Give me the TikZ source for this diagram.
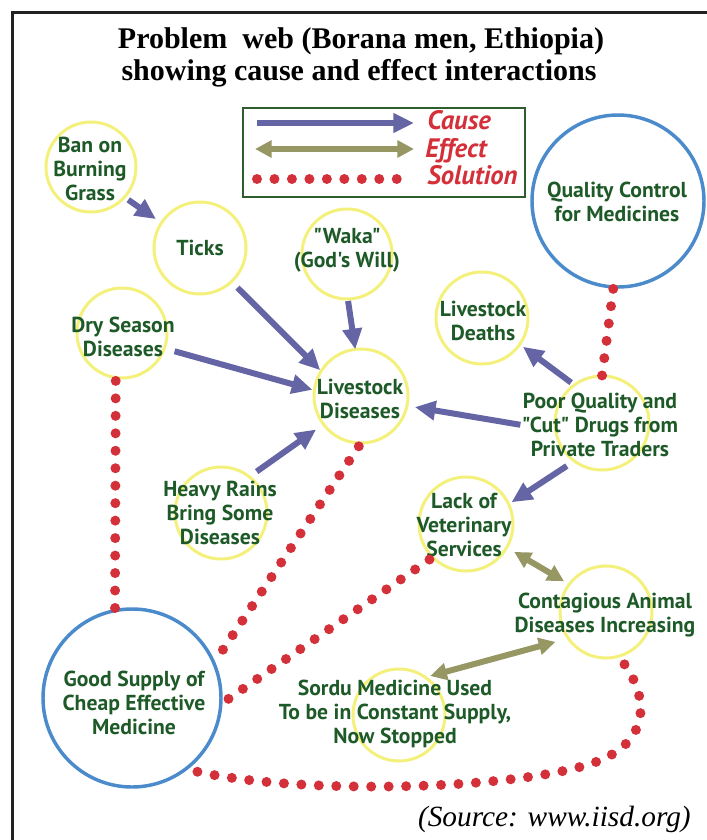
\documentclass[tikz,border=0pt]{standalone}
\usepackage{fontspec}
\usetikzlibrary{arrows.meta}
\setmainfont{Liberation Serif}
\newfontfamily\labelfont{PT Sans}

\definecolor{tgreen}{HTML}{1E5A28}
\definecolor{yel}{HTML}{F4F07C}
\definecolor{bcirc}{HTML}{4B8BCB}
\definecolor{causec}{HTML}{6565A5}
\definecolor{effc}{HTML}{979764}
\definecolor{solc}{HTML}{D3303A}
\definecolor{legc}{HTML}{2E5E2E}
\definecolor{framec}{HTML}{222222}

\begin{document}
\begin{tikzpicture}[x=0.75pt, y=-0.75pt,
  yc/.style={circle, draw=yel, line width=2.25pt, minimum size=69pt, inner sep=0pt, outer sep=0pt},
  bc/.style={circle, draw=bcirc, line width=2.6pt, inner sep=0pt, outer sep=0pt},
  lbl/.style={font=\labelfont\bfseries\fontsize{16.25}{18}\selectfont, text=tgreen, align=center, inner sep=0pt},
  legtxt/.style={font=\labelfont\bfseries\itshape\fontsize{20}{22}\selectfont, text=solc, inner sep=0pt},
  cause/.style={draw=causec, line width=4.5pt, -{Triangle[length=15.5pt,width=14pt]}},
  effect/.style={draw=effc, line width=4.5pt, {Triangle[length=12.5pt,width=12.5pt]}-{Triangle[length=12.5pt,width=12.5pt]}},
  sol/.style={draw=solc, line width=7.5pt, line cap=round, dash pattern=on 0pt off 13.1pt},
  titletxt/.style={font=\bfseries\fontsize{22.5}{24}\selectfont, inner sep=0pt}]

\useasboundingbox (0,0) rectangle (707,840);

% frame on the left and top
\draw[framec, line width=2.25pt] (12.5,840) -- (12.5,12.5) -- (707,12.5);

% heading
\node[titletxt, anchor=base] (title1) at (361,48) {Problem\ \ web (Borana men, Ethiopia)};
\node[titletxt, anchor=base] (title2) at (359,80) {showing cause and effect interactions};

% key
\node[draw=legc, line width=1.5pt, minimum width=211.5pt, minimum height=66.75pt, inner sep=0pt] (legend) at (384,152.5) {};
\coordinate (ca1) at (257,123); \coordinate (ca2) at (414,123);
\coordinate (ef1) at (255,149); \coordinate (ef2) at (414,149);
\coordinate (so1) at (257,179); \coordinate (so2) at (407,179);
\draw[cause] (ca1) -- (ca2);
\draw[effect] (ef1) -- (ef2);
\draw[sol] (so1) -- (so2);
\node[legtxt, anchor=base west] (lcause) at (427,129) {Cause};
\node[legtxt, anchor=base west] (leffect) at (425,157) {Effect};
\node[legtxt, anchor=base west] (lsol) at (427,184) {Solution};

% problem circles
\node[yc, minimum size=67.5pt] (ban) at (91,167) {};
\node[yc] (ticks) at (200,248) {};
\node[yc, minimum size=67.5pt] (waka) at (347,254) {};
\node[yc, minimum size=67.5pt] (dry) at (122,333) {};
\node[yc, minimum size=70.5pt] (ld) at (361,396) {};
\node[yc] (deaths) at (482,318) {};
\node[yc, minimum size=70.5pt] (poor) at (602,423) {};
\node[yc, minimum size=70.5pt] (lack) at (466,524) {};
\node[yc] (heavy) at (221,513) {};
\node[yc] (cont) at (606,612) {};
\node[yc] (sordu) at (399,715) {};

% solution circles
\node[bc, minimum size=129pt] (qc) at (618,201) {};
\node[bc, minimum size=133.5pt] (good) at (132,698) {};

% labels
\node[lbl] (bant) at (90,169) {Ban on\\Burning\\Grass};
\node[lbl] (tickst) at (200,248) {Ticks};
\node[lbl] (wakat) at (347,250) {"Waka"\\(God's Will)};
\node[lbl] (dryt) at (123,337) {Dry Season\\Diseases};
\node[lbl] (ldt) at (360,399) {Livestock\\Diseases};
\node[lbl] (deathst) at (483,321) {Livestock\\Deaths};
\node[lbl] (qct) at (617,202) {Quality Control\\for Medicines};
\node[lbl] (poort) at (600,425) {Poor Quality and\\"Cut" Drugs from\\Private Traders};
\node[lbl] (lackt) at (464,525) {Lack of\\Veterinary\\Services};
\node[lbl] (heavyt) at (220,513) {Heavy Rains\\Bring Some\\Diseases};
\node[lbl] (contt) at (605,615) {Contagious Animal\\Diseases Increasing};
\node[lbl] (sordut) at (395,714) {Sordu Medicine Used\\To be in Constant Supply,\\Now Stopped};
\node[lbl] (goodt) at (134,703) {Good Supply of\\Cheap Effective\\Medicine};

% causes
\draw[cause, shorten <=3.5pt, shorten >=5pt] (ban.-42) -- (ticks.147);
\draw[cause, shorten <=6.4pt, shorten >=1pt] (ticks.-47) -- (ld.148);
\draw[cause, shorten <=1.5pt] (waka.-89) -- (ld.97);
\draw[cause, shorten <=8pt, shorten >=1.5pt] (dry.-20) -- (ld.173);
\draw[cause, shorten <=6.75pt, shorten >=6.75pt] (heavy.52) -- (ld.217);
\draw[cause, shorten <=1pt, shorten >=6pt] (poort.west) -- (ld.-12);
\draw[cause, shorten <=3pt, shorten >=3pt] (poor.126) -- (deaths.-35);
\draw[cause, shorten <=6.75pt, shorten >=2.6pt] (poor.-126) -- (lack.25);

% effects
\draw[effect, shorten <=6.5pt, shorten >=4.5pt] (lack.-30) -- (cont.143);
\draw[effect, shorten <=3.75pt, shorten >=10pt] (sordu.55) -- (cont.215);

% solutions
\draw[sol, shorten <=1.5pt] (qc.-93) -- (poor.90);
\draw[sol, shorten <=2.5pt, shorten >=1pt] (dry.-98) -- (good.101);
\draw[sol, shorten <=3pt, shorten >=6pt] (ld.-90) -- (good.23);
\draw[sol, shorten <=3pt, shorten >=1.5pt] (lack.225) -- (good.-4);
\draw[sol, shorten <=7.5pt, shorten >=7.5pt] (cont.-74) .. controls (650,700) and (650,745) .. (590,764)
  .. controls (510,790) and (300,795) .. (good.-53);

% credit
\node[font=\itshape\fontsize{22}{24}\selectfont, inner sep=0pt, anchor=base east] (src) at (691,826) {(Source: www.iisd.org)};
\end{tikzpicture}
\end{document}
